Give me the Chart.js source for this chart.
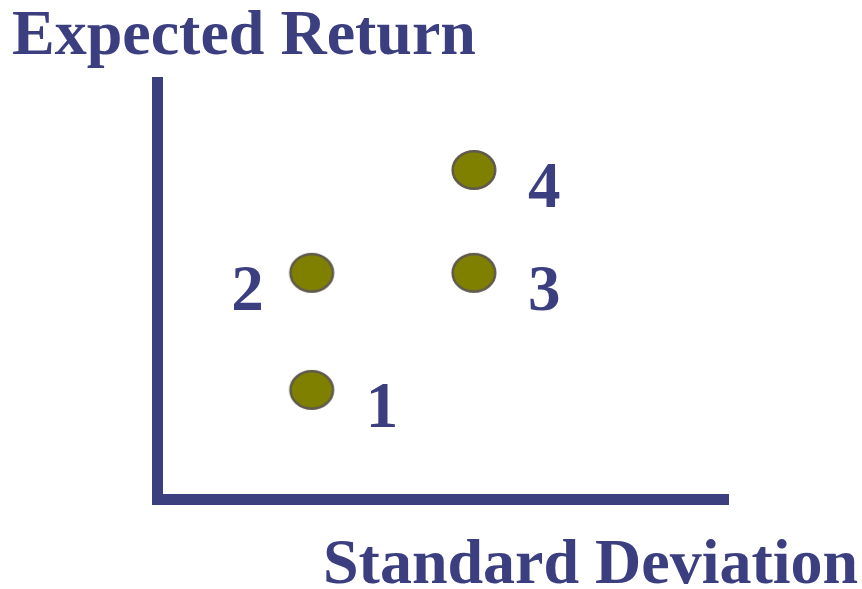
<!DOCTYPE html>
<html>
<head>
<meta charset="utf-8">
<script src="https://cdn.jsdelivr.net/npm/chart.js@4/dist/chart.umd.min.js"></script>
<style>
    html, body { margin: 0; padding: 0; background: #ffffff; }
    .bodyCanvas { position: relative; width: 862px; height: 589px; }
</style>
</head>
<body>
<div class="bodyCanvas">
    <canvas id="riscoRetorno"></canvas>
</div>
<script>
var pontos = ['1', '2', '3', '4'];
var desvioPadrao = [2.71, 2.71, 5.55, 5.55];
var retornoEsperado = [2.62, 5.43, 5.43, 7.9];

var corTexto = '#3b3f80';
var fonteSerif = '"Liberation Serif", "Times New Roman", serif';

// bolinha oval usada como pointStyle
function criarBolinha() {
    var c = document.createElement('canvas');
    c.width = 48;
    c.height = 44;
    var ctx = c.getContext('2d');
    ctx.beginPath();
    ctx.ellipse(24, 22, 21.3, 18.8, 0, 0, Math.PI * 2);
    ctx.fillStyle = '#808000';
    ctx.fill();
    ctx.lineWidth = 2.5;
    ctx.strokeStyle = '#5f5a4c';
    ctx.stroke();
    return c;
}

var textosPlugin = {
    id: 'textos',
    afterDraw: function (chart) {
        var ctx = chart.ctx;
        ctx.save();
        ctx.fillStyle = corTexto;
        ctx.textBaseline = 'alphabetic';
        ctx.textAlign = 'left';
        ctx.font = 'bold 64px ' + fonteSerif;
        ctx.fillText('Expected Return', 12, 54);
        ctx.fillText('Standard Deviation', 323, 583);

        // numero ao lado de cada ponto
        ctx.font = 'bold 65px ' + fonteSerif;
        var meta = chart.getDatasetMeta(0);
        for (var i = 0; i < meta.data.length; i++) {
            var p = meta.data[i];
            if (i == 1) {
                ctx.textAlign = 'right';
                ctx.fillText(pontos[i], p.x - 48, p.y + 37);
            } else {
                ctx.textAlign = 'left';
                ctx.fillText(pontos[i], p.x + 54, p.y + 37);
            }
        }
        ctx.restore();
    }
};

function criarGrafico() {
    var dados = [];
    for (var i = 0; i < pontos.length; i++) {
        dados.push({ x: desvioPadrao[i], y: retornoEsperado[i] });
    }

    var eixo = {
        type: 'linear',
        min: 0,
        max: 10,
        grid: { display: false },
        ticks: { display: false },
        border: { display: true, color: corTexto, width: 11 }
    };

    var config = {
        type: 'scatter',
        data: {
            datasets: [{
                label: 'Pontos',
                data: dados,
                pointStyle: criarBolinha(),
                pointRadius: 21,
                pointHoverRadius: 21
            }]
        },
        options: {
            responsive: true,
            maintainAspectRatio: false,
            animation: false,
            events: [],
            layout: {
                padding: { top: 82.5, right: 134, bottom: 90, left: 0 }
            },
            plugins: {
                legend: { display: false },
                tooltip: { enabled: false }
            },
            scales: {
                x: Object.assign({}, eixo, {
                    position: 'bottom',
                    afterFit: function (s) { s.height = 0; }
                }),
                y: Object.assign({}, eixo, {
                    position: 'left',
                    afterFit: function (s) { s.width = 157; }
                })
            }
        },
        plugins: [textosPlugin]
    };

    new Chart(document.getElementById('riscoRetorno'), config);
}

criarGrafico();
</script>
</body>
</html>
